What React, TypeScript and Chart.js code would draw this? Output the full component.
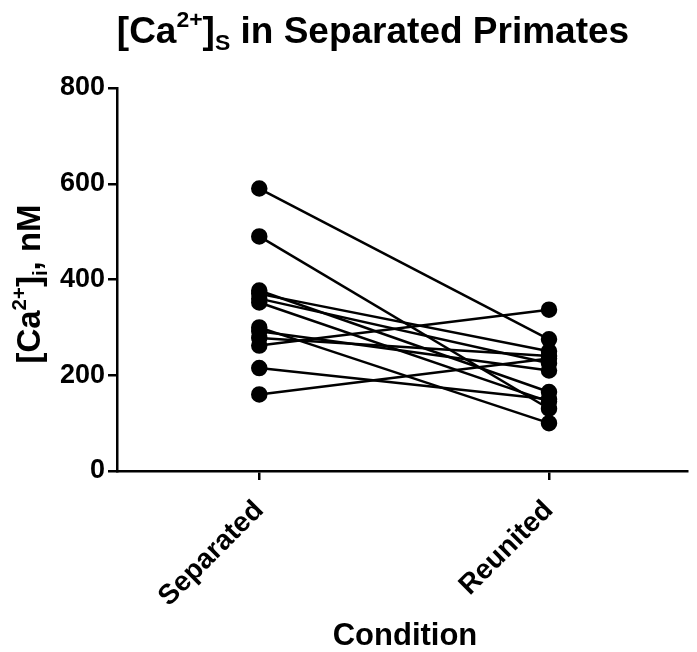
import React, { useEffect, useRef } from "react";
import { Chart, registerables } from "chart.js";

Chart.register(...registerables);

const categories = ["Separated", "Reunited"];
const separatedValues = [590, 490, 377, 370, 360, 352, 300, 292, 278, 262, 215, 160];
const reunitedValues = [275, 130, 165, 250, 225, 145, 100, 210, 240, 337, 150, 235];
const yTicks = [0, 200, 400, 600, 800];

const FONT = "'Liberation Sans', Arial, sans-serif";

type Seg = { t: string; s: number; dy: number };

function drawRich(ctx: CanvasRenderingContext2D, segs: Seg[], size: number, cx: number, baseY: number) {
  let total = 0;
  for (const g of segs) {
    ctx.font = `bold ${size * g.s}px ${FONT}`;
    total += ctx.measureText(g.t).width;
  }
  let x = cx - total / 2;
  ctx.textAlign = "left";
  ctx.textBaseline = "alphabetic";
  ctx.fillStyle = "#000";
  for (const g of segs) {
    ctx.font = `bold ${size * g.s}px ${FONT}`;
    ctx.fillText(g.t, x, baseY + g.dy * size);
    x += ctx.measureText(g.t).width;
  }
}

const titleSegs: Seg[] = [
  { t: "[Ca", s: 1, dy: 0 },
  { t: "2+", s: 0.62, dy: -0.42 },
  { t: "]", s: 1, dy: 0 },
  { t: "S", s: 0.62, dy: 0.2 },
  { t: " in Separated Primates", s: 1, dy: 0 },
];
const yTitleSegs: Seg[] = [
  { t: "[Ca", s: 1, dy: 0 },
  { t: "2+", s: 0.62, dy: -0.42 },
  { t: "]", s: 1, dy: 0 },
  { t: "i", s: 0.62, dy: 0.2 },
  { t: ", nM", s: 1, dy: 0 },
];

const textPlugin = {
  id: "richText",
  afterDraw(chart: any) {
    const ctx = chart.ctx as CanvasRenderingContext2D;
    ctx.save();
    drawRich(ctx, titleSegs, 37, 373, 43);
    drawRich(ctx, [{ t: "Condition", s: 1, dy: 0 }], 31, 405, 645);
    ctx.translate(40, 284);
    ctx.rotate(-Math.PI / 2);
    drawRich(ctx, yTitleSegs, 33, 0, 0);
    ctx.restore();
  },
};

export default function App() {
  const ref = useRef<HTMLCanvasElement>(null);
  useEffect(() => {
    if (!ref.current) return;
    const datasets = separatedValues.map((v, i) => ({
      data: [
        { x: 0, y: v },
        { x: 1, y: reunitedValues[i] },
      ],
      borderColor: "#000",
      backgroundColor: "#000",
      borderWidth: 2.5,
      pointRadius: 7,
      pointHoverRadius: 7,
      pointBackgroundColor: "#000",
      pointBorderColor: "#000",
      showLine: true,
      clip: false as any,
    }));
    const chart = new Chart(ref.current, {
      type: "scatter",
      data: { datasets },
      options: {
        animation: false,
        responsive: false,
        devicePixelRatio: 1,
        events: [],
        layout: { padding: { top: 88, right: 0, left: 0, bottom: 0 } },
        plugins: { legend: { display: false }, tooltip: { enabled: false }, title: { display: false } },
        scales: {
          x: {
            type: "linear",
            min: -0.491,
            max: 1.478,
            afterBuildTicks: (s: any) => {
              s.ticks = categories.map((_, i) => ({ value: i }));
            },
            afterFit: (s: any) => {
              s.height = 181;
            },
            ticks: {
              callback: (v: any) => categories[v as number] ?? "",
              color: "#000",
              font: { family: FONT, size: 28, weight: "bold" },
              minRotation: 45,
              maxRotation: 45,
              padding: 14,
              autoSkip: false,
            },
            grid: { display: true, drawOnChartArea: false, drawTicks: true, tickLength: 9, color: "#000", lineWidth: 2.5 },
            border: { display: true, color: "#000", width: 2.5 },
          },
          y: {
            type: "linear",
            min: 0,
            max: 800,
            afterBuildTicks: (s: any) => {
              s.ticks = yTicks.map((v) => ({ value: v }));
            },
            afterFit: (s: any) => {
              s.width = 117;
            },
            ticks: {
              color: "#000",
              font: { family: FONT, size: 27, weight: "bold" },
              padding: 3,
            },
            grid: { display: true, drawOnChartArea: false, drawTicks: true, tickLength: 9, color: "#000", lineWidth: 2.5 },
            border: { display: true, color: "#000", width: 2.5 },
          },
        },
      },
      plugins: [textPlugin],
    });
    return () => chart.destroy();
  }, []);
  return (
    <div style={{ position: "absolute", left: 0, top: 0, width: 697, height: 652, background: "#fff" }}>
      <canvas ref={ref} width={697} height={652} style={{ display: "block" }} />
    </div>
  );
}
